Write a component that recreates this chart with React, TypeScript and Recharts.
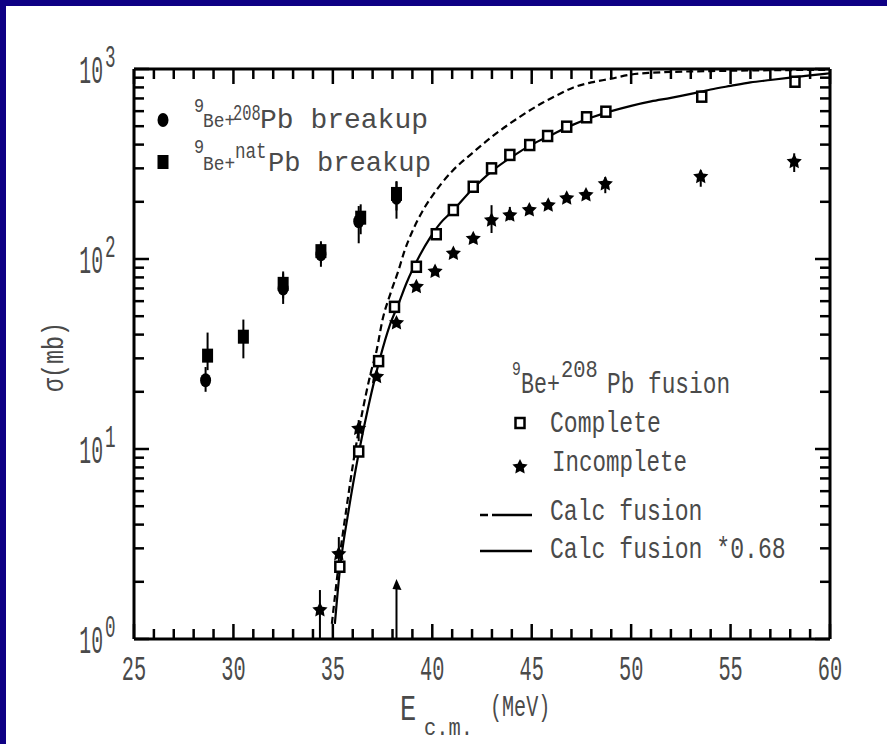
import React from 'react';
import { ComposedChart, Line, Scatter, XAxis, YAxis, ErrorBar } from 'recharts';

// ---------- DATA ----------
// 9Be + 208Pb breakup (filled circles)
const bu208E = [28.6, 32.5, 34.4, 36.3, 38.2];
const bu208S = [23, 70, 106, 158, 210];
const bu208Lo = [20, 58, 91, 121, 163];
const bu208Hi = [27, 84, 121, 190, 255];
// 9Be + natPb breakup (filled squares)
const buNatE = [28.7, 30.5, 32.5, 34.4, 36.4, 38.2];
const buNatS = [31, 39, 74, 110, 165, 220];
const buNatLo = [26, 30, 62, 95, 135, 180];
const buNatHi = [41, 48, 86, 124, 194, 257];
// complete fusion (open symbols)
const cfE = [35.35, 36.3, 37.3, 38.1, 39.2, 40.2, 41.06, 42.06, 42.98, 43.9, 44.9, 45.8, 46.76, 47.76, 48.73, 53.55, 58.24];
const cfS = [2.4, 9.7, 29, 56, 91, 135, 181, 240, 300, 353, 398, 444, 497, 557, 596, 715, 857];
// incomplete fusion (stars)
const icfE = [34.35, 35.3, 36.3, 37.2, 38.2, 39.2, 40.14, 41.06, 42.06, 42.98, 43.9, 44.88, 45.83, 46.76, 47.73, 48.7, 53.5, 58.2];
const icfS = [1.42, 2.8, 12.8, 24, 46, 71.5, 86, 107, 128, 160, 170, 181, 192, 209, 217, 248, 271, 325];
const icfLo = [1.0, 2.2, 11, 24, 46, 71.5, 86, 107, 128, 137, 160, 172, 192, 209, 217, 222, 240, 287];
const icfHi = [1.81, 3.44, 14.2, 24, 46, 71.5, 86, 107, 128, 192, 188, 192, 192, 209, 217, 270, 293, 360];
// upper-limit arrow
const arrowE = [38.2];
const arrowS = [1.9];
const arrowLo = [1.0];
// calculated fusion (dashed)
const calcE = [34.95, 35.3, 35.7, 36.1, 36.5, 36.9, 37.2, 37.5, 37.9, 38.3, 38.6, 39.0, 39.5, 40.0, 40.4, 41.0, 42.0, 43.0, 44.4, 45.5, 46.3, 47.1, 48.0, 49.0, 50.0, 51.0, 52.0, 54.0, 57.0, 60.0];
const calcS = [1.2, 2.5, 5.0, 9.5, 16, 25, 33, 48, 66, 87, 110, 140, 178, 215, 245, 290, 360, 440, 560, 660, 730, 800, 850, 890, 935, 955, 965, 975, 985, 990];
// calculated fusion * 0.68 (solid)
const calc68E = [35.1, 35.35, 35.8, 36.3, 36.8, 37.37, 37.87, 38.3, 38.71, 39.38, 39.9, 40.4, 41.0, 42.0, 43.0, 44.0, 45.0, 46.0, 47.0, 48.0, 49.0, 50.0, 51.0, 52.0, 53.0, 54.0, 55.0, 56.0, 57.0, 58.0, 59.0, 60.0];
const calc68S = [1.2, 2.3, 4.8, 9.5, 17, 30, 45, 58, 75, 105, 130, 154, 178, 232, 290, 345, 400, 450, 505, 555, 600, 640, 675, 705, 740, 780, 815, 850, 875, 900, 925, 950];

// ticks
const xTicks = [25, 26, 27, 28, 29, 30, 31, 32, 33, 34, 35, 36, 37, 38, 39, 40, 41, 42, 43, 44, 45, 46, 47, 48, 49, 50, 51, 52, 53, 54, 55, 56, 57, 58, 59, 60];
const xMajor = [25, 30, 35, 40, 45, 50, 55, 60];
const yTicks = [1, 2, 3, 4, 5, 6, 7, 8, 9, 10, 20, 30, 40, 50, 60, 70, 80, 90, 100, 200, 300, 400, 500, 600, 700, 800, 900, 1000];
const yMajor = [1, 10, 100, 1000];
const yMajorExp = ['0', '1', '2', '3'];

// ---------- STYLE ----------
const FONT = '"Liberation Mono", "DejaVu Sans Mono", monospace';
const TXT = '#4a4a4a';
const BLUE = '#0e0084';

const mk = (E: number[], S: number[], lo?: number[], hi?: number[]) =>
  E.map((x, i) => ({
    x,
    y: S[i],
    err: [lo ? S[i] - lo[i] : 0, hi ? hi[i] - S[i] : 0],
  }));

const bu208Data = mk(bu208E, bu208S, bu208Lo, bu208Hi);
const buNatData = mk(buNatE, buNatS, buNatLo, buNatHi);
const cfData = mk(cfE, cfS);
const icfData = mk(icfE, icfS, icfLo, icfHi);
const arrowData = mk(arrowE, arrowS, arrowLo);
const calcData = mk(calcE, calcS);
const calc68Data = mk(calc68E, calc68S);

// ---------- SHAPES ----------
const FilledEllipse = (p: any) => <ellipse cx={p.cx} cy={p.cy} rx={5.5} ry={7} fill="#000" />;
const FilledSquare = (p: any) => <rect x={p.cx - 5.5} y={p.cy - 7} width={11} height={14} fill="#000" />;
const OpenSquare = (p: any) => (
  <rect x={p.cx - 4.5} y={p.cy - 5} width={9} height={10} fill="#fff" stroke="#000" strokeWidth={2.5} />
);
const starPts = (cx: number, cy: number, R: number, r: number) => {
  const pts: string[] = [];
  for (let i = 0; i < 10; i++) {
    const a = -Math.PI / 2 + (i * Math.PI) / 5;
    const rad = i % 2 === 0 ? R : r;
    pts.push(`${cx + rad * Math.cos(a)},${cy + rad * Math.sin(a)}`);
  }
  return pts.join(' ');
};
const Star = (p: any) => <polygon points={starPts(p.cx, p.cy, 8, 4)} fill="#000" />;
const Arrow = (p: any) => (
  <polygon points={`${p.cx},${p.cy - 7} ${p.cx - 4},${p.cy + 3} ${p.cx + 5},${p.cy + 4}`} fill="#000" />
);

// ---------- TICKS ----------
const XTick = (props: any) => {
  const { x, y, payload, side } = props;
  const v = payload.value;
  const major = xMajor.includes(v);
  const len = major ? 15 : 10;
  const dir = side === 'bottom' ? -1 : 1;
  return (
    <g>
      <line x1={x} y1={y} x2={x} y2={y + dir * len} stroke="#000" strokeWidth={2.5} />
      {side === 'bottom' && major && (
        <text
          transform={`translate(${x},${y + 41}) scale(0.58,1)`}
          textAnchor="middle"
          fontFamily={FONT}
          fontSize={35}
          fill={TXT}
        >
          {String(v)}
        </text>
      )}
    </g>
  );
};

const YTick = (props: any) => {
  const { x, y, payload, side } = props;
  const v = payload.value;
  const mi = yMajor.findIndex((m) => Math.abs(m - v) < 1e-9);
  const major = mi >= 0;
  const len = major ? 15 : 10;
  const dir = side === 'left' ? 1 : -1;
  return (
    <g>
      <line x1={x} y1={y} x2={x + dir * len} y2={y} stroke="#000" strokeWidth={2.5} />
      {side === 'left' && major && (
        <g>
          <text
            transform={`translate(${x - 31},${y + 14}) scale(0.52,1)`}
            textAnchor="end"
            fontFamily={FONT}
            fontSize={38}
            fill={TXT}
          >
            10
          </text>
          <text
            transform={`translate(${x - 29},${y - 2}) scale(0.55,1)`}
            textAnchor="start"
            fontFamily={FONT}
            fontSize={32}
            fill={TXT}
          >
            {yMajorExp[mi]}
          </text>
        </g>
      )}
    </g>
  );
};

const T = ({ x, y, s = 1, size, children, anchor = 'start' }: any) => (
  <text
    transform={`translate(${x},${y}) scale(${s},1)`}
    fontFamily={FONT}
    fontSize={size}
    fill={TXT}
    textAnchor={anchor}
  >
    {children}
  </text>
);

export default function App() {
  const axisLine = { stroke: '#000', strokeWidth: 3 };
  return (
    <div style={{ position: 'absolute', left: 0, top: 0, width: 887, height: 744, background: '#fff', overflow: 'hidden' }}>
      <div style={{ position: 'absolute', left: 0, top: 0, width: 6, height: 744, background: BLUE }} />
      <div style={{ position: 'absolute', left: 0, top: 0, width: 887, height: 6, background: BLUE }} />
      <div style={{ position: 'absolute', left: 0, top: 0 }}>
        <ComposedChart width={887} height={744} margin={{ left: 133, top: 68, right: 56, bottom: 104 }}>
          <XAxis
            xAxisId="b"
            type="number"
            dataKey="x"
            domain={[25, 60]}
            allowDataOverflow
            ticks={xTicks}
            interval={0}
            height={1}
            tickSize={0}
            tickMargin={0}
            tickLine={false}
            axisLine={axisLine}
            tick={<XTick side="bottom" />}
          />
          <XAxis
            xAxisId="t"
            orientation="top"
            type="number"
            dataKey="x"
            domain={[25, 60]}
            allowDataOverflow
            ticks={xTicks}
            interval={0}
            height={1}
            tickSize={0}
            tickMargin={0}
            tickLine={false}
            axisLine={axisLine}
            tick={<XTick side="top" />}
          />
          <YAxis
            yAxisId="l"
            type="number"
            dataKey="y"
            scale="log"
            domain={[1, 1000]}
            allowDataOverflow
            ticks={yTicks}
            interval={0}
            width={1}
            tickSize={0}
            tickMargin={0}
            tickLine={false}
            axisLine={axisLine}
            tick={<YTick side="left" />}
          />
          <YAxis
            yAxisId="r"
            orientation="right"
            type="number"
            dataKey="y"
            scale="log"
            domain={[1, 1000]}
            allowDataOverflow
            ticks={yTicks}
            interval={0}
            width={1}
            tickSize={0}
            tickMargin={0}
            tickLine={false}
            axisLine={axisLine}
            tick={<YTick side="right" />}
          />
          <Line
            xAxisId="t"
            yAxisId="r"
            data={calc68Data}
            dataKey="y"
            stroke="none"
            dot={false}
            isAnimationActive={false}
          />
          <Line
            xAxisId="b"
            yAxisId="l"
            data={calcData}
            dataKey="y"
            type="monotone"
            stroke="#000"
            strokeWidth={2.2}
            strokeDasharray="7 4"
            dot={false}
            isAnimationActive={false}
          />
          <Line
            xAxisId="b"
            yAxisId="l"
            data={calc68Data}
            dataKey="y"
            type="monotone"
            stroke="#000"
            strokeWidth={2.2}
            dot={false}
            isAnimationActive={false}
          />
          <Scatter xAxisId="b" yAxisId="l" data={bu208Data} dataKey="y" shape={FilledEllipse} isAnimationActive={false}>
            <ErrorBar dataKey="err" direction="y" width={0} stroke="#000" strokeWidth={2} />
          </Scatter>
          <Scatter xAxisId="b" yAxisId="l" data={buNatData} dataKey="y" shape={FilledSquare} isAnimationActive={false}>
            <ErrorBar dataKey="err" direction="y" width={0} stroke="#000" strokeWidth={2} />
          </Scatter>
          <Scatter xAxisId="b" yAxisId="l" data={icfData} dataKey="y" shape={Star} isAnimationActive={false}>
            <ErrorBar dataKey="err" direction="y" width={0} stroke="#000" strokeWidth={2} />
          </Scatter>
          <Scatter xAxisId="b" yAxisId="l" data={cfData} dataKey="y" shape={OpenSquare} isAnimationActive={false} />
          <Scatter xAxisId="b" yAxisId="l" data={arrowData} dataKey="y" shape={Arrow} isAnimationActive={false}>
            <ErrorBar dataKey="err" direction="y" width={0} stroke="#000" strokeWidth={2} />
          </Scatter>
        </ComposedChart>
      </div>
      <svg width={887} height={744} style={{ position: 'absolute', left: 0, top: 0, pointerEvents: 'none' }}>
        {/* breakup legend */}
        <FilledEllipse cx={163} cy={120} />
        <T x={194} y={112} size={21} s={0.8}>9</T>
        <T x={203} y={127} size={21} s={0.85}>Be+</T>
        <T x={233} y={120} size={22} s={0.7}>208</T>
        <T x={260} y={128} size={28} s={1.0}>Pb breakup</T>
        <FilledSquare cx={163} cy={162} />
        <T x={194} y={153} size={21} s={0.8}>9</T>
        <T x={203} y={170} size={21} s={0.85}>Be+</T>
        <T x={235} y={158} size={22} s={0.8}>nat</T>
        <T x={268} y={171} size={28} s={0.97}>Pb breakup</T>

        {/* fusion legend */}
        <T x={512} y={375} size={21} s={0.7}>9</T>
        <T x={521} y={393} size={30} s={0.72}>Be+</T>
        <T x={561} y={377} size={24} s={0.85}>208</T>
        <T x={607} y={393} size={30} s={0.76}>Pb fusion</T>
        <OpenSquare cx={520} cy={423} />
        <T x={550} y={432} size={30} s={0.77}>Complete</T>
        <Star cx={520} cy={467} />
        <T x={552} y={471} size={30} s={0.75}>Incomplete</T>
        <line x1={480} y1={515} x2={532} y2={515} stroke="#000" strokeWidth={2.5} strokeDasharray="8 4 40" />
        <T x={550} y={520} size={30} s={0.77}>Calc fusion</T>
        <line x1={480} y1={551} x2={532} y2={551} stroke="#000" strokeWidth={2.5} />
        <T x={550} y={558} size={30} s={0.77}>Calc fusion *0.68</T>

        {/* axis titles */}
        <text
          transform="translate(63,357) rotate(-90) scale(0.78,1)"
          textAnchor="middle"
          fontFamily={FONT}
          fontSize={30}
          fill={TXT}
        >
          σ(mb)
        </text>
        <T x={400} y={720} size={36} s={0.75}>E</T>
        <T x={424} y={735} size={24} s={0.85}>c.m.</T>
        <T x={490} y={716} size={30} s={0.67}>(MeV)</T>
      </svg>
    </div>
  );
}
